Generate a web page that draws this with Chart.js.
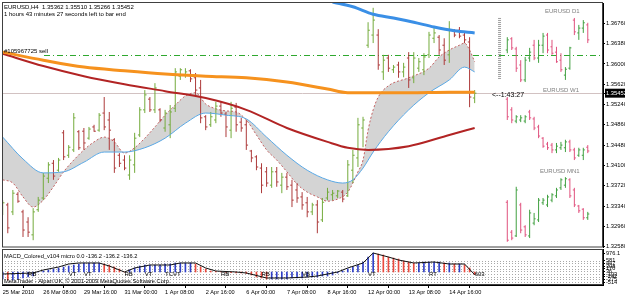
<!DOCTYPE html>
<html><head><meta charset="utf-8">
<script src="https://cdn.jsdelivr.net/npm/chart.js@4.4.1/dist/chart.umd.min.js"></script>
<style>
html,body{margin:0;padding:0;background:#fff;}
#wrap{position:relative;width:625px;height:297px;overflow:hidden;background:#fff;}
canvas{position:absolute;left:0;}
#c1{top:0;} #c2{top:248px;}
</style></head><body>
<div id="wrap"><canvas id="c1" width="625" height="248"></canvas><canvas id="c2" width="625" height="49"></canvas></div>
<script>
// ---------- DATA ----------
const h4Open = [1.3323,1.3336,1.3323,1.3356,1.3323,1.3304,1.3280,1.3327,1.3349,1.3386,
1.3414,1.3401,1.3471,1.3429,1.3439,1.3473,1.3474,1.3461,1.3482,1.3476,
1.3508,1.3495,1.3458,1.3429,1.3420,1.3392,1.3411,1.3467,1.3514,1.3534,
1.3514,1.3514,1.3480,1.3486,1.3517,1.3577,1.3579,1.3587,1.3574,1.3555,
1.3501,1.3486,1.3495,1.3521,1.3506,1.3476,1.3519,1.3491,1.3486,1.3437,
1.3426,1.3405,1.3398,1.3373,1.3398,1.3373,1.3388,1.3373,1.3364,1.3351,
1.3340,1.3323,1.3336,1.3308,1.3349,1.3355,1.3353,1.3360,1.3353,1.3401,
1.3424,1.3480,1.3635,1.3654,1.3654,1.3585,1.3611,1.3589,1.3598,1.3585,
1.3611,1.3574,1.3592,1.3589,1.3617,1.3648,1.3650,1.3635,1.3617,1.3662,
1.3663,1.3654,1.3641,1.35362];
const h4High = [1.3345,1.3340,1.3364,1.3360,1.3327,1.3313,1.3330,1.3351,1.3396,1.3416,
1.3420,1.3424,1.3476,1.3448,1.3508,1.3476,1.3480,1.3482,1.3486,1.3508,
1.3538,1.3510,1.3461,1.3433,1.3429,1.3429,1.3471,1.3519,1.3551,1.3538,
1.3564,1.3517,1.3514,1.3523,1.3592,1.3592,1.3592,1.3590,1.3583,1.3570,
1.3504,1.3510,1.3529,1.3529,1.3510,1.3529,1.3527,1.3499,1.3495,1.3439,
1.3429,1.3414,1.3407,1.3407,1.3407,1.3396,1.3396,1.3383,1.3377,1.3360,
1.3351,1.3340,1.3345,1.3349,1.3368,1.3364,1.3364,1.3364,1.3420,1.3439,
1.3499,1.3501,1.3678,1.3705,1.3665,1.3617,1.3617,1.3598,1.3604,1.3602,
1.3622,1.3622,1.3611,1.3620,1.3660,1.3667,1.3654,1.3648,1.3680,1.3665,
1.3669,1.3660,1.3650,1.35510];
const h4Low = [1.3317,1.3283,1.3317,1.3340,1.3276,1.3276,1.3270,1.3323,1.3345,1.3377,
1.3383,1.3398,1.3420,1.3424,1.3435,1.3439,1.3439,1.3458,1.3473,1.3473,
1.3476,1.3439,1.3396,1.3407,1.3401,1.3383,1.3396,1.3463,1.3508,1.3510,
1.3508,1.3491,1.3473,1.3461,1.3510,1.3570,1.3574,1.3566,1.3542,1.3489,
1.3476,1.3482,1.3489,1.3501,1.3463,1.3461,1.3473,1.3473,1.3439,1.3416,
1.3401,1.3358,1.3370,1.3368,1.3370,1.3358,1.3364,1.3332,1.3340,1.3327,
1.3313,1.3317,1.3283,1.3304,1.3345,1.3345,1.3349,1.3341,1.3351,1.3377,
1.3407,1.3444,1.3630,1.3639,1.3589,1.3570,1.3585,1.3583,1.3574,1.3575,
1.3555,1.3564,1.3585,1.3579,1.3611,1.3639,1.3617,1.3598,1.3602,1.3650,
1.3648,1.3639,1.3519,1.35266];
const h4Close = [1.3340,1.3293,1.3358,1.3343,1.3289,1.3285,1.3323,1.3345,1.3390,1.3411,
1.3390,1.3420,1.3426,1.3444,1.3499,1.3443,1.3452,1.3478,1.3474,1.3504,
1.3482,1.3476,1.3405,1.3414,1.3405,1.3420,1.3461,1.3514,1.3542,1.3514,
1.3555,1.3495,1.3508,1.3510,1.3585,1.3589,1.3585,1.3572,1.3551,1.3499,
1.3482,1.3501,1.3521,1.3508,1.3482,1.3517,1.3486,1.3480,1.3448,1.3424,
1.3407,1.3373,1.3377,1.3398,1.3379,1.3388,1.3370,1.3345,1.3349,1.3336,
1.3323,1.3336,1.3304,1.3341,1.3360,1.3358,1.3362,1.3347,1.3411,1.3429,
1.3486,1.3495,1.3663,1.3682,1.3598,1.3607,1.3592,1.3594,1.3585,1.3594,
1.3570,1.3611,1.3604,1.3613,1.3654,1.3658,1.3626,1.3607,1.3663,1.3654,
1.3652,1.3645,1.3538,1.35452];

// moving averages (bar index, price)
const orangeIdx = [0,8,16,24,32,40,48,56,64,68,72,80,88,93];
const orangeVal = [1.3622,1.3607,1.3594,1.3587,1.3581,1.3577,1.3574,1.3566,1.3553,1.3546,1.3546,1.3546,1.3547,1.3547];
const darkRedIdx = [0,8,16,24,32,40,48,56,64,68,72,80,88,93];
const darkRedVal = [1.3619,1.3596,1.3577,1.3562,1.3549,1.3536,1.3514,1.3480,1.3454,1.3443,1.3439,1.3446,1.3467,1.3480];
const blueIdx = [65,69,73,77,81,85,89,93];
const blueVal = [1.3716,1.3707,1.3693,1.3686,1.3678,1.3669,1.3662,1.3658];
const slowIdx = [0,4,8,12,16,20,24,28,32,36,40,44,48,52,56,60,64,67,69,71,73,76,80,84,88,91,93];
const slowVal = [1.3463,1.3422,1.3396,1.3398,1.3416,1.3435,1.3435,1.3443,1.3461,1.3489,1.3508,1.3504,1.3497,1.3463,1.3429,1.3401,1.3383,1.3377,1.3383,1.3405,1.3435,1.3473,1.3514,1.3546,1.3570,1.3594,1.3585];
const fastIdx = [0,2,4,6,8,10,12,14,16,18,20,22,24,26,28,30,32,34,36,38,40,42,44,46,48,50,52,54,56,58,60,62,64,66,68,70,71,72,73,74,76,80,84,86,88,90,91,92,93];
const fastVal = [1.3383,1.3377,1.3351,1.3332,1.3345,1.3370,1.3398,1.3420,1.3439,1.3454,1.3463,1.3454,1.3433,1.3443,1.3461,1.3482,1.3504,1.3523,1.3540,1.3546,1.3525,1.3516,1.3512,1.3510,1.3495,1.3467,1.3439,1.3420,1.3398,1.3375,1.3360,1.3351,1.3343,1.3347,1.3360,1.3398,1.3420,1.3476,1.3514,1.3538,1.3559,1.3574,1.3592,1.3613,1.3626,1.3635,1.3639,1.3626,1.3604];

// mini charts on the right (D1, W1, MN1), values read against the price axis
const d1Open  = [1.3626,1.3647,1.3628,1.3598,1.3570,1.3611,1.3635,1.3611,1.3635,1.3654,1.3632,1.3622,1.3607,1.3579,1.3592,1.3682,1.3658,1.3667,1.3673];
const d1High  = [1.3650,1.3650,1.3632,1.3607,1.3613,1.3630,1.3645,1.3645,1.3658,1.3658,1.3645,1.3632,1.3620,1.3594,1.3632,1.3686,1.3673,1.3682,1.3677];
const d1Low   = [1.3620,1.3626,1.3585,1.3566,1.3566,1.3604,1.3607,1.3602,1.3620,1.3620,1.3617,1.3602,1.3585,1.3570,1.3589,1.3654,1.3645,1.3658,1.3639];
const d1Close = [1.3645,1.3630,1.3592,1.3570,1.3607,1.3622,1.3611,1.3635,1.3652,1.3626,1.3620,1.3604,1.3589,1.3590,1.3630,1.3660,1.3667,1.3677,1.3645];
const w1Open  = [1.3534,1.3514,1.3493,1.3495,1.3493,1.3510,1.3497,1.3482,1.3461,1.3450,1.3448,1.3439,1.3443,1.3443,1.3454,1.3439,1.3429,1.3429,1.3444];
const w1High  = [1.3538,1.3519,1.3504,1.3504,1.3504,1.3514,1.3501,1.3486,1.3463,1.3454,1.3452,1.3452,1.3454,1.3458,1.3458,1.3443,1.3443,1.3443,1.3448];
const w1Low   = [1.3495,1.3489,1.3489,1.3491,1.3489,1.3495,1.3476,1.3461,1.3443,1.3439,1.3433,1.3433,1.3439,1.3435,1.3435,1.3420,1.3426,1.3420,1.3433];
const w1Close = [1.3501,1.3495,1.3501,1.3499,1.3501,1.3499,1.3480,1.3465,1.3446,1.3443,1.3439,1.3446,1.3448,1.3454,1.3439,1.3424,1.3439,1.3439,1.3437];
const mn1Open  = [1.3341,1.3285,1.3278,1.3336,1.3295,1.3278,1.3302,1.3308,1.3340,1.3336,1.3345,1.3353,1.3368,1.3373,1.3383,1.3364,1.3334,1.3328,1.3312];
const mn1High  = [1.3345,1.3289,1.3370,1.3340,1.3298,1.3327,1.3321,1.3349,1.3349,1.3355,1.3358,1.3368,1.3386,1.3388,1.3386,1.3368,1.3336,1.3330,1.3323];
const mn1Low   = [1.3267,1.3270,1.3276,1.3283,1.3276,1.3274,1.3298,1.3304,1.3336,1.3332,1.3341,1.3349,1.3364,1.3368,1.3349,1.3332,1.3321,1.3308,1.3308];
const mn1Close = [1.3270,1.3274,1.3364,1.3289,1.3280,1.3321,1.3310,1.3345,1.3345,1.3351,1.3355,1.3364,1.3383,1.3385,1.3353,1.3336,1.3325,1.3312,1.3319];
const d1RangeMarker = [1.3686, 1.3570];

// price axis
const priceTicks = [1.36760,1.36380,1.36000,1.35620,1.35452,1.35240,1.34860,1.34480,1.34100,1.33720,1.33340,1.32960,1.32580];
const lastPrice = 1.35452;
const orderPrice = 1.3617;

// time axis
const dateTickBars = [0,8,16,24,32,40,48,56,64,72,80,88];
const dateLabels = ['25 Mar 2010','26 Mar 08:00','29 Mar 16:00','31 Mar 00:00','1 Apr 08:00','2 Apr 16:00','6 Apr 00:00','7 Apr 08:00','8 Apr 16:00','12 Apr 00:00','13 Apr 08:00','14 Apr 16:00'];

// MACD
const macdHist = [-360,-411,-411,-360,-308,-257,-206,0,51,103,
154,206,257,308,360,411,463,463,463,463,
411,360,257,154,0,103,206,308,360,360,
360,360,411,411,463,463,463,463,411,257,
154,51,40,20,-20,-30,-50,-51,-80,-154,
-257,-308,-360,-360,-360,-360,-360,-308,-308,-308,
-257,-257,-257,-206,-206,-154,-51,51,154,257,
360,514,771,976,925,874,771,720,668,565,
514,463,463,514,514,514,514,463,463,411,
411,360,206,-136.2];
const macdSigIdx = [0,6,8,11,13,15,19,21,24,26,29,33,35,38,40,42,46,48,52,56,60,62,66,68,71,73,76,78,81,85,88,91,93];
const macdSigVal = [-103,-51,103,257,411,463,463,308,0,206,360,360,463,463,206,51,0,-51,-308,-308,-257,-206,0,206,463,976,771,617,463,514,411,411,-136.2];
const macdTicks = [976.1,581,447,308,170,36,-103,-242,-375,-514];
const macdLevels = [581,447,308,170,36,-103,-242,-375,-514];
const macdMarks = [['RB',5],['VT',13],['VT',16],['RB',24],['VT',28],['TCVT',32],['RB',43],['RB',51],['VB',59],['VT',72],['RT',84],['603',93]];

// ---------- RENDER ----------
const FONT = '"Liberation Sans", Arial, sans-serif';
Chart.defaults.font.family = FONT;
Chart.defaults.font.size = 6;
Chart.defaults.color = '#000';

const X_MIN = -0.14, X_MAX = 118.29;
const H4_TICK = 0.35, MINI_TICK = 0.3;
const miniX0 = 99.43, miniStep = 0.881;
const barIdx = h4Open.map((_, k) => k);
const miniIdx = d1Open.map((_, k) => miniX0 + k * miniStep);

function ohlcPoints(xs, o, h, l, c, up, tick) {
  const pts = [];
  for (let k = 0; k < o.length; k++) {
    if ((c[k] >= o[k]) !== up) continue;
    const x = xs[k];
    pts.push({x, y: l[k]}, {x, y: h[k]}, {x, y: null},
             {x: x - tick, y: o[k]}, {x, y: o[k]}, {x, y: null},
             {x, y: c[k]}, {x: x + tick, y: c[k]}, {x, y: null});
  }
  return pts;
}
const pairs = (idx, val) => idx.map((x, k) => ({x, y: val[k]}));
const maSet = (idx, val, color, width, order, extra) => Object.assign({
  type: 'line', data: pairs(idx, val), borderColor: color, borderWidth: width,
  pointRadius: 0, fill: false, cubicInterpolationMode: 'monotone', order
}, extra || {});
const barSet = (pts, color, order) => ({type: 'line', data: pts, borderColor: color, borderWidth: 1,
  pointRadius: 0, fill: false, spanGaps: false, tension: 0, order});

const miniUp = [].concat(
  ohlcPoints(miniIdx, d1Open, d1High, d1Low, d1Close, true, MINI_TICK),
  ohlcPoints(miniIdx, w1Open, w1High, w1Low, w1Close, true, MINI_TICK),
  ohlcPoints(miniIdx, mn1Open, mn1High, mn1Low, mn1Close, true, MINI_TICK));
const miniDown = [].concat(
  ohlcPoints(miniIdx, d1Open, d1High, d1Low, d1Close, false, MINI_TICK),
  ohlcPoints(miniIdx, w1Open, w1High, w1Low, w1Close, false, MINI_TICK),
  ohlcPoints(miniIdx, mn1Open, mn1High, mn1Low, mn1Close, false, MINI_TICK));

const mainDecor = {
  id: 'mainDecor',
  beforeDatasetsDraw(chart) {
    const {ctx, chartArea: a, scales: {y}} = chart;
    ctx.save();
    const yp = Math.round(y.getPixelForValue(lastPrice)) + 0.5;
    ctx.strokeStyle = '#d2c2c2'; ctx.lineWidth = 1;
    ctx.beginPath(); ctx.moveTo(a.left, yp); ctx.lineTo(a.right, yp); ctx.stroke();
    const yo = Math.round(y.getPixelForValue(orderPrice)) + 0.5;
    ctx.strokeStyle = '#2fa82f'; ctx.setLineDash([6, 3, 1, 3]);
    ctx.beginPath(); ctx.moveTo(a.left + 42, yo); ctx.lineTo(a.right, yo); ctx.stroke();
    ctx.restore();
  },
  afterDraw(chart) {
    const {ctx, chartArea: a} = chart;
    ctx.save();
    ctx.strokeStyle = '#404040'; ctx.lineWidth = 1;
    ctx.strokeRect(a.left + 0.5, a.top - 0.5, a.right - a.left - 1, a.bottom - a.top + 0.5);
    ctx.fillStyle = '#000';
    ctx.font = '6px ' + FONT;
    ctx.textBaseline = 'alphabetic';
    ctx.fillText('EURUSD,H4  1.35362 1.35510 1.35266 1.35452', 4, 8.5);
    ctx.fillText('1 hours 43 minutes 27 seconds left to bar end', 4, 15.5);
    ctx.fillText('#105967725 sell', 4, 53);
    ctx.font = '7px ' + FONT;
    ctx.fillText('<--1:43:27', 492, 96.5);
    ctx.fillStyle = '#808080';
    ctx.font = '6px ' + FONT;
    ctx.fillText('EURUSD D1', 545, 12.5);
    ctx.fillText('EURUSD W1', 543, 92);
    ctx.fillText('EURUSD MN1', 540, 172.5);
    ctx.restore();
  }
};

new Chart(document.getElementById('c1'), {
  type: 'line',
  data: {datasets: [
    maSet(slowIdx, slowVal, '#5aa9e6', 1, 40),
    maSet(fastIdx, fastVal, '#c46262', 1, 60, {fill: '-1', backgroundColor: '#d4d4d4', borderDash: [2, 2]}),
    barSet(ohlcPoints(barIdx, h4Open, h4High, h4Low, h4Close, true, H4_TICK), '#74ab3c', 50),
    barSet(ohlcPoints(barIdx, h4Open, h4High, h4Low, h4Close, false, H4_TICK), '#ad3a3a', 50),
    maSet(darkRedIdx, darkRedVal, '#b22424', 2, 30),
    maSet(orangeIdx, orangeVal, '#f6921e', 3, 20),
    maSet(blueIdx, blueVal, '#3a8fe6', 3, 10),
    barSet(miniUp, '#40a040', 45),
    barSet(miniDown, '#e0527e', 45),
    {type: 'line', data: [{x: 97.9, y: d1RangeMarker[0]}, {x: 97.9, y: d1RangeMarker[1]}],
     borderColor: '#a0a0a0', borderWidth: 3, borderDash: [1, 1], pointRadius: 0, fill: false, order: 45}
  ]},
  options: {
    responsive: false, animation: false, events: [],
    layout: {padding: {left: 2, right: 0, top: 3, bottom: 1}},
    plugins: {legend: {display: false}, tooltip: {enabled: false}},
    scales: {
      x: {type: 'linear', min: X_MIN, max: X_MAX, display: false, offset: false},
      y: {
        position: 'right', min: 1.325726, max: 1.371400,
        afterBuildTicks: s => { s.ticks = priceTicks.map(v => ({value: v})); },
        afterFit: s => { s.width = 22; s.paddingTop = 0; s.paddingBottom = 0; },
        border: {display: true, color: '#000', width: 1},
        grid: {drawOnChartArea: false, drawTicks: true, tickLength: 2, color: '#000'},
        ticks: {
          autoSkip: false, padding: 1,
          font: {size: 5.8},
          color: c => (c.tick && c.tick.value === lastPrice) ? '#fff' : '#000',
          showLabelBackdrop: c => !!(c.tick && c.tick.value === lastPrice),
          backdropColor: '#000',
          backdropPadding: {top: 1, bottom: 1, left: 1, right: 4},
          callback: v => Number(v).toFixed(5)
        }
      }
    }
  },
  plugins: [mainDecor]
});

// ---------- MACD ----------
const macdDecor = {
  id: 'macdDecor',
  beforeDatasetsDraw(chart) {
    const {ctx, chartArea: a, scales: {y}} = chart;
    ctx.save();
    ctx.strokeStyle = '#a8a8a8'; ctx.lineWidth = 1; ctx.setLineDash([1, 2]);
    macdLevels.forEach(v => {
      const py = Math.round(y.getPixelForValue(v)) + 0.5;
      ctx.beginPath(); ctx.moveTo(a.left, py); ctx.lineTo(a.right, py); ctx.stroke();
    });
    ctx.restore();
  },
  afterDraw(chart) {
    const {ctx, chartArea: a, scales: {x}} = chart;
    ctx.save();
    ctx.strokeStyle = '#404040'; ctx.lineWidth = 1;
    ctx.strokeRect(a.left + 0.5, a.top + 0.5, a.right - a.left - 1, a.bottom - a.top - 1);
    ctx.fillStyle = '#000';
    ctx.font = '5.7px ' + FONT;
    ctx.fillText('MACD_Colored_v104 micro 0.0 -136.2 -136.2 -136.2', 4, 9.5);
    ctx.fillText('MetaTrader - Alpari UK, \u00a9 2001-2009 MetaQuotes Software Corp.', 4, 35);
    ctx.font = '6px ' + FONT;
    macdMarks.forEach(([t, i]) => ctx.fillText(t, x.getPixelForValue(i), 28));
    ctx.restore();
  }
};

new Chart(document.getElementById('c2'), {
  type: 'line',
  data: {datasets: [
    {type: 'bar', data: pairs(barIdx, macdHist), barThickness: 1, borderWidth: 0, order: 20,
     backgroundColor: macdHist.map((v, k) => (k === 0 || v >= macdHist[k - 1]) ? '#3040c8' : '#ea4a3e')},
    {type: 'line', data: pairs(macdSigIdx, macdSigVal), borderColor: '#111', borderWidth: 1,
     pointRadius: 0, fill: false, tension: 0, order: 10}
  ]},
  options: {
    responsive: false, animation: false, events: [],
    layout: {padding: {left: 2, right: 0, top: 1, bottom: 0}},
    plugins: {legend: {display: false}, tooltip: {enabled: false}},
    scales: {
      x: {
        type: 'linear', min: X_MIN, max: X_MAX, offset: false,
        afterBuildTicks: s => { s.ticks = dateTickBars.map(v => ({value: v})); },
        afterFit: s => { s.height = 12; s.paddingLeft = 0; s.paddingRight = 0; },
        border: {display: true, color: '#000'},
        grid: {drawOnChartArea: false, drawTicks: true, tickLength: 3, color: '#000'},
        ticks: {autoSkip: false, maxRotation: 0, align: 'start', padding: 1, font: {size: 5.6},
          callback: (v, i) => dateLabels[i]}
      },
      y: {
        position: 'right', min: -668, max: 1182,
        afterBuildTicks: s => { s.ticks = macdTicks.map(v => ({value: v})); },
        afterFit: s => { s.width = 22; s.paddingTop = 0; s.paddingBottom = 0; },
        border: {display: true, color: '#000'},
        grid: {drawOnChartArea: false, drawTicks: true, tickLength: 2, color: '#000'},
        ticks: {autoSkip: false, padding: 1, font: {size: 5.6},
          callback: v => v === 976.1 ? '976.1' : String(Math.round(v))}
      }
    }
  },
  plugins: [macdDecor]
});
</script></body></html>
